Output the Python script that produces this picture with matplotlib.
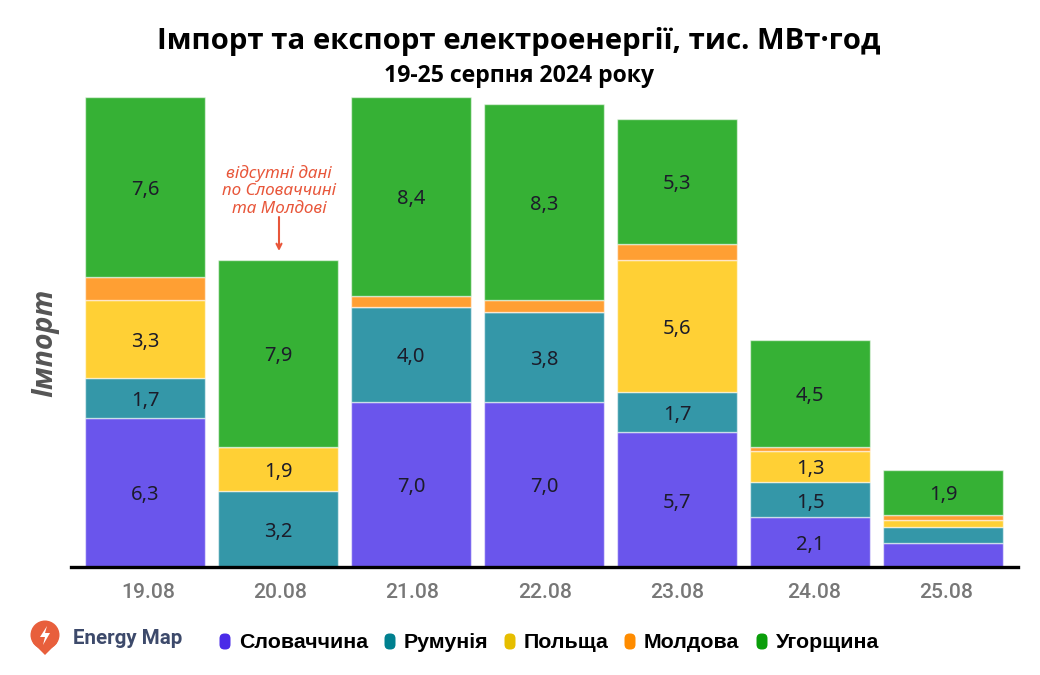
import numpy as np
import matplotlib
matplotlib.use("Agg")
import matplotlib.pyplot as plt
from matplotlib.patches import FancyBboxPatch, Circle, Polygon
from matplotlib.transforms import ScaledTranslation

days = ["19.08", "20.08", "21.08", "22.08", "23.08", "24.08", "25.08"]
countries = ["Словаччина", "Румунія", "Польща", "Молдова", "Угорщина"]

slovakia = [6.3, 0.0, 7.0, 7.0, 5.7, 2.1, 1.0]
romania = [1.7, 3.2, 4.0, 3.8, 1.7, 1.5, 0.7]
poland = [3.3, 1.9, 0.0, 0.0, 5.6, 1.3, 0.3]
moldova = [1.0, 0.0, 0.5, 0.5, 0.7, 0.2, 0.2]
hungary = [7.6, 7.9, 8.4, 8.3, 5.3, 4.5, 1.9]

bar_colors = ["#6a55ec", "#3497a8", "#ffd035", "#ff9f33", "#36b135"]
legend_colors = ["#4a2be8", "#00808f", "#e6be00", "#ff8c00", "#0a9e0a"]

W, H = 1040, 675
fig = plt.figure(figsize=(W / 100, H / 100), dpi=100, facecolor="white")
ax = fig.add_axes([71 / W, 1 - 567 / H, (1018 - 71) / W, 477 / H])

## bars
x = np.arange(len(days))
bottom = np.zeros(len(days))
for vals, col in zip([slovakia, romania, poland, moldova, hungary], bar_colors):
    vals = np.array(vals)
    ax.bar(x, vals, 0.9, bottom=bottom, color=col, edgecolor=(1, 1, 1, 0.55), linewidth=1)
    for i, v in enumerate(vals):
        if v >= 1.3:
            ax.annotate(f"{v:.1f}".replace(".", ","), (i, bottom[i] + v / 2), xytext=(0, -2),
                        textcoords="offset points", ha="center", va="center",
                        fontsize=14.5, color="#1c1c2a", family="Noto Sans")
    bottom += vals

ax.set_xlim(-74 / 133, 873 / 133)
ax.set_ylim(0, 477 / 23.6)
ax.set_yticks([])
for s in ["top", "left", "right"]:
    ax.spines[s].set_visible(False)
ax.spines["bottom"].set_linewidth(2.4)
ax.spines["bottom"].set_color("black")
ax.set_axisbelow(False)

ax.set_xticks(x)
ax.set_xticklabels(days, fontsize=15.2, color="#777777", family="Roboto", fontweight="medium")
ax.tick_params(axis="x", length=0, pad=11.5)
label_shift = [3, 2, 1, 1, 0, 4, 3]
for lab, dx in zip(ax.get_xticklabels(), label_shift):
    lab.set_transform(lab.get_transform() + ScaledTranslation(dx / 100, 0, fig.dpi_scale_trans))


def px(a, b):
    return a / W, 1 - b / H


## titles
fig.text(*px(519, 41), "Імпорт та експорт електроенергії, тис. МВт·год", ha="center", va="center",
         fontsize=21.15, fontweight="bold", color="black", family="Open Sans")
fig.text(*px(519, 76), "19-25 серпня 2024 року", ha="center", va="center",
         fontsize=16.6, fontweight="bold", color="black", family="Open Sans")
fig.text(*px(45, 343), "Імпорт", ha="center", va="center", rotation=90, fontsize=20.5,
         fontweight="bold", fontstyle="italic", color="#555555", family="Open Sans")

## note over the second bar
for yy, line in zip([174, 191, 209], ["відсутні дані", "по Словаччині", "та Молдові"]):
    fig.text(*px(279, yy), line, ha="center", va="center", fontsize=12.3, fontstyle="italic",
             color="#e8563a", family="Noto Sans")
ax.annotate("", xy=px(279, 251), xytext=px(279, 217), xycoords="figure fraction",
            textcoords="figure fraction",
            arrowprops=dict(arrowstyle="->", color="#e8563a", lw=1.5, shrinkA=0, shrinkB=0,
                            mutation_scale=9))

## legend
legend_x = [225, 390, 510, 630, 762]
for lx, name, col in zip(legend_x, countries, legend_colors):
    fig.add_artist(FancyBboxPatch((lx - 2, H - 646), 4, 9, boxstyle="round,pad=3.5,rounding_size=5",
                                  facecolor=col, edgecolor="none", transform=None))
    fig.text(*px(lx + 14, 642), name, ha="left", va="center", fontsize=15.4, fontweight="bold",
             color="black", family="Liberation Sans")

## logo
fig.add_artist(Circle((45, H - 635), 14.5, facecolor="#e85f3c", edgecolor="none", transform=None))
fig.add_artist(Polygon([(33, H - 643), (57, H - 643), (45, H - 655)], closed=True, facecolor="#e85f3c",
                       edgecolor="none", transform=None))
fig.add_artist(Polygon([(47, H - 626), (40, H - 637), (45, H - 637), (43, H - 645), (50, H - 633),
                        (45, H - 633)], closed=True, facecolor="white", edgecolor="none", transform=None))
fig.text(*px(73, 639), "Energy Map", ha="left", va="center", fontsize=14.8, fontweight="bold",
         color="#3d4a6b", family="Roboto")

fig.savefig("out.png", dpi=100)
